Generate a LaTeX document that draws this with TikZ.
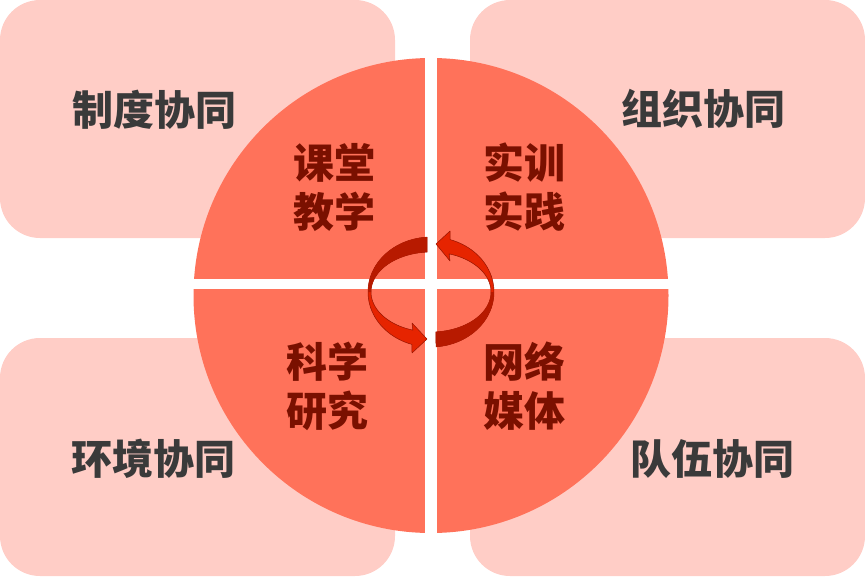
\documentclass[tikz,border=0pt]{standalone}
\usepackage{fontspec}
\setmainfont{Noto Sans CJK SC}
\usepackage{tikz}

\definecolor{pinkbox}{RGB}{255,205,198}
\definecolor{quadred}{RGB}{255,114,90}
\definecolor{greytext}{RGB}{58,58,58}
\definecolor{darkred}{RGB}{122,16,0}
\definecolor{arrowdark}{RGB}{183,26,0}
\definecolor{arrowlight}{RGB}{230,36,0}
\definecolor{arrowedge}{RGB}{150,20,0}

\begin{document}
\begin{tikzpicture}[line cap=round,line join=round,x=1pt,y=-1pt,
  box/.style={fill=pinkbox,rounded corners=40pt,minimum width=395pt,minimum height=238pt,inner sep=0pt},
  outertext/.style={text=greytext,font=\fontsize{41}{49}\selectfont\bfseries,inner sep=0pt},
  innertext/.style={text=darkred,font=\fontsize{41}{49}\selectfont\bfseries,align=center,inner sep=0pt}]

\useasboundingbox (0,0) rectangle (865,576);

% four outer boxes
\node[box] (zhidubox) at (197.5,119) {};
\node[box] (zuzhibox) at (667.5,119) {};
\node[box] (huanjingbox) at (197.5,457) {};
\node[box] (duiwubox) at (667.5,457) {};

% the cut circle
\begin{scope}
\clip (431,295.5) circle[radius=237.5];
\fill[quadred] (0,0) rectangle (425,279);
\fill[quadred] (437,0) rectangle (865,279);
\fill[quadred] (0,289) rectangle (425,576);
\fill[quadred] (437,289) rectangle (865,576);
\end{scope}

\node[outertext] (zhidu) at (154,110) {制度协同};
\node[outertext] (zuzhi) at (703,109) {组织协同};
\node[outertext] (huanjing) at (153,459) {环境协同};
\node[outertext] (duiwu) at (712,459) {队伍协同};

\node[innertext] (ketang) at (334,187) {课堂\\教学};
\node[innertext] (shixun) at (524,187) {实训\\实践};
\node[innertext] (keyan) at (327,386) {科学\\研究};
\node[innertext] (wangluo) at (524,386) {网络\\媒体};

% left arrow
\fill[arrowlight,draw=arrowedge,line width=0.5pt] plot[domain=93.6:252.4,samples=50] ({431+63*cos(\x)},{292-55*sin(\x)})
  -- (412,353) -- (427,339) -- (412,323)
  -- plot[domain=252.4:93.6,samples=50] ({431+60*cos(\x)},{292-40*sin(\x)}) -- cycle;
\fill[arrowdark] plot[domain=93.6:180,samples=40] ({431+63*cos(\x)},{292-55*sin(\x)})
  -- plot[domain=180:93.6,samples=40] ({431+60*cos(\x)},{292-40*sin(\x)}) -- cycle;

% right arrow
\fill[arrowlight,draw=arrowedge,line width=0.5pt] plot[domain=274.6:432.4,samples=50] ({431+63*cos(\x)},{292-55*sin(\x)})
  -- (450,231) -- (436,244) -- (450,261)
  -- plot[domain=432.4:274.6,samples=50] ({431+60*cos(\x)},{292-40*sin(\x)}) -- cycle;
\fill[arrowdark] plot[domain=274.6:360,samples=40] ({431+63*cos(\x)},{292-55*sin(\x)})
  -- plot[domain=360:274.6,samples=40] ({431+60*cos(\x)},{292-40*sin(\x)}) -- cycle;

\end{tikzpicture}
\end{document}
